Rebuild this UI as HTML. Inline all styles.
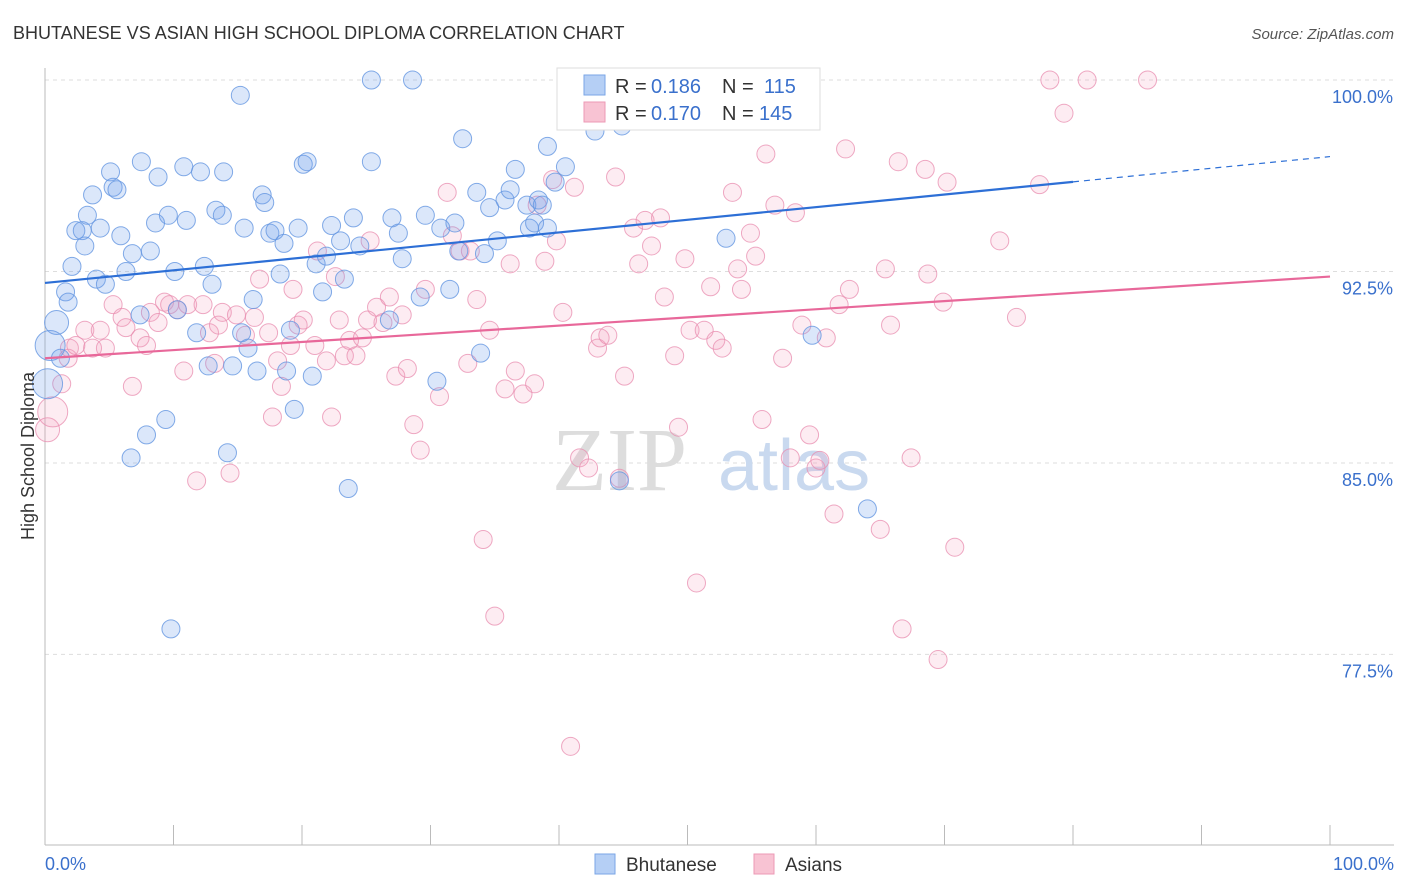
<!DOCTYPE html>
<html><head><meta charset="utf-8"><style>
body{margin:0;background:#fff;font-family:"Liberation Sans",sans-serif}
svg{display:block}
</style></head><body>
<svg id="chart" width="1406" height="892" viewBox="0 0 1406 892" xmlns="http://www.w3.org/2000/svg" font-family="Liberation Sans, sans-serif">
<text x="13" y="39" font-size="18" fill="#333">BHUTANESE VS ASIAN HIGH SCHOOL DIPLOMA CORRELATION CHART</text>
<text x="1394" y="39" font-size="15" fill="#555" text-anchor="end" font-style="italic">Source: ZipAtlas.com</text>
<g id="grid"></g>
<g><text x="552" y="490" font-size="90" fill="#ddd" font-family="Liberation Serif, serif">ZIP</text><text x="718" y="490" font-size="72" fill="#c9d9ef">atlas</text></g>
<g id="axes"></g>
<g id="pts"></g>
<g id="lines"></g>
<text transform="translate(34,456) rotate(-90)" font-size="18" fill="#333" text-anchor="middle">High School Diploma</text>
<g>
<rect x="557" y="68" width="263" height="62" fill="#fff" stroke="#ddd"/>
<rect x="584" y="75" width="21" height="20" fill="#b5cff5" stroke="#7aa6e6"/>
<rect x="584" y="102" width="21" height="20" fill="#f8c3d3" stroke="#ec9ab6"/>
<text x="615" y="93" font-size="20" fill="#333">R =</text>
<text x="651" y="93" font-size="20" fill="#3a70cc">0.186</text>
<text x="722" y="93" font-size="20" fill="#333">N =</text>
<text x="764" y="93" font-size="20" fill="#3a70cc">115</text>
<text x="615" y="120" font-size="20" fill="#333">R =</text>
<text x="651" y="120" font-size="20" fill="#3a70cc">0.170</text>
<text x="722" y="120" font-size="20" fill="#333">N =</text>
<text x="759" y="120" font-size="20" fill="#3a70cc">145</text>
</g>
<g>
<rect x="595" y="854" width="20" height="20" fill="#b5cff5" stroke="#7aa6e6"/>
<text x="626" y="871" font-size="19" fill="#333">Bhutanese</text>
<rect x="754" y="854" width="20" height="20" fill="#f8c3d3" stroke="#ec9ab6"/>
<text x="785" y="871" font-size="19" fill="#333">Asians</text>
</g>
</svg>
<script>
const blueX=[0.9,0.4,0.2,1.2,1.6,1.8,2.1,2.4,2.9,3.1,3.3,3.7,4.0,4.3,4.7,5.1,5.3,5.6,5.9,6.3,6.7,6.8,7.4,7.5,7.9,8.2,8.6,8.8,9.4,9.6,9.8,10.1,10.3,10.8,11.0,11.8,12.1,12.4,12.7,13.0,13.3,13.8,13.9,14.2,14.6,15.2,15.3,15.5,15.8,16.2,16.5,16.9,17.1,17.5,17.9,18.3,18.6,18.8,19.1,19.4,19.7,20.1,20.4,20.8,21.1,21.6,21.9,22.3,23.0,23.3,23.6,24.0,24.5,25.4,25.4,26.8,27.0,27.5,27.8,28.6,29.2,29.6,30.5,30.8,31.5,31.9,32.2,32.5,33.9,33.6,34.2,34.6,35.2,35.8,36.2,36.6,37.5,37.7,38.1,38.4,38.7,39.1,39.1,39.7,40.5,42.8,43.0,44.7,44.9,45.9,53.0,59.7,64.0];
const blueY=[90.5,89.6,88.1,89.1,91.7,91.3,92.7,94.1,94.1,93.5,94.7,95.5,92.2,94.2,92.0,96.4,95.8,95.7,93.9,92.5,85.2,93.2,90.8,96.8,86.1,93.3,94.4,96.2,86.7,94.7,78.5,92.5,91.0,96.6,94.5,90.1,96.4,92.7,88.8,92.0,94.9,94.7,96.4,85.4,88.8,99.4,90.1,94.2,89.5,91.4,88.6,95.5,95.2,94.0,94.1,92.4,93.6,88.6,90.2,87.1,94.2,96.7,96.8,88.4,92.8,91.7,93.1,94.3,93.7,92.2,84.0,94.6,93.5,100,96.8,90.6,94.6,94.0,93.0,100,91.5,94.7,88.2,94.2,91.8,94.4,93.3,97.7,89.3,95.6,93.2,95.0,93.7,95.3,95.7,96.5,95.1,94.2,94.4,95.3,95.1,97.4,94.2,96.0,96.6,98.0,100,84.3,98.2,100,93.8,90.0,83.2];
const pinkX=[0.2,0.6,1.3,1.8,1.9,2.4,3.1,3.7,4.3,4.7,5.3,6.0,6.3,6.8,7.4,7.9,8.2,8.8,9.3,9.7,10.3,10.8,11.1,11.8,12.3,12.8,13.2,13.5,13.8,14.4,14.9,15.6,16.3,16.7,17.4,17.7,18.1,18.4,19.1,19.3,19.7,20.1,21.0,21.2,21.9,22.3,22.6,22.9,23.3,23.7,24.2,24.7,25.1,25.3,25.8,26.3,26.8,27.3,27.8,28.2,28.7,29.2,29.6,30.7,31.3,31.7,32.3,32.9,33.1,33.6,34.1,34.6,35.0,35.8,36.2,36.6,37.2,38.1,38.3,38.9,39.5,39.8,40.3,40.9,41.2,41.6,42.3,43.0,43.2,43.8,44.4,44.7,45.1,45.8,46.2,46.7,47.2,47.9,48.2,49.0,49.3,49.8,50.2,50.7,51.3,51.8,52.2,52.7,53.5,53.9,54.2,54.9,55.3,55.8,56.1,56.8,57.4,58.0,58.4,58.9,59.5,60.0,60.3,60.8,61.4,61.8,62.3,62.6,65.0,65.4,65.8,66.4,66.7,67.4,68.5,68.7,69.5,69.9,70.2,70.8,74.3,75.6,77.4,78.2,79.3,81.1,85.8];
const pinkY=[86.3,87.0,88.1,89.1,89.5,89.6,90.2,89.5,90.2,89.5,91.2,90.7,90.3,88.0,89.9,89.6,90.9,90.5,91.3,91.2,91.0,88.6,91.2,84.3,91.2,90.1,88.9,90.4,90.9,84.6,90.8,90.0,90.7,92.2,90.1,86.8,89.0,88.0,89.6,91.8,90.4,90.6,89.6,93.3,89.0,86.8,92.3,90.6,89.2,89.8,89.2,89.9,90.6,93.7,91.1,90.5,91.5,88.4,90.8,88.7,86.5,85.5,91.8,87.6,95.6,93.9,93.3,88.9,93.3,91.4,82.0,90.2,79.0,87.9,92.8,88.6,87.7,88.1,95.1,92.9,96.1,93.7,90.9,73.9,95.8,85.2,84.8,89.5,89.9,90.0,96.2,84.4,88.4,94.2,92.8,94.5,93.5,94.6,91.5,89.2,86.4,93.0,90.2,80.3,90.2,91.9,89.8,89.5,95.6,92.6,91.8,94.0,93.1,86.7,97.1,95.1,89.1,85.2,94.8,90.4,86.1,84.8,85.1,89.9,83.0,91.2,97.3,91.8,82.4,92.6,90.4,96.8,78.5,85.2,96.5,92.4,77.3,91.3,96.0,81.7,93.7,90.7,95.9,100,98.7,100,100];
const blueTrend=[92.05,97.0];
const pinkTrend=[89.1,92.3];
const yTicks=[100,92.5,85,77.5];
const yTickLabels=["100.0%","92.5%","85.0%","77.5%"];
const xTicks=[0,10,20,30,40,50,60,70,80,90,100];

const NS="http://www.w3.org/2000/svg";
const sx=v=>45+v*12.85;
const sy=v=>80+(100-v)*25.53;
function mk(tag,attrs,parent){const e=document.createElementNS(NS,tag);for(const k in attrs)e.setAttribute(k,attrs[k]);parent.appendChild(e);return e;}
const grid=document.getElementById('grid'),axes=document.getElementById('axes'),pts=document.getElementById('pts'),lines=document.getElementById('lines');
yTicks.forEach((t,i)=>{
  const l=mk('line',{x1:45,x2:1394,y1:sy(t),y2:sy(t),stroke:'#ddd','stroke-dasharray':'4,4'},grid);
  
  
  const tx=mk('text',{x:1393,y:sy(t)+23,'font-size':18,fill:'#3a70cc','text-anchor':'end'},axes);
  tx.textContent=yTickLabels[i];
  
  
});
const ya=mk('line',{x1:45,x2:45,y1:68,y2:845,stroke:'#bbb'},axes);


const xa=mk('line',{x1:45,x2:1394,y1:845,y2:845,stroke:'#bbb'},axes);


xTicks.forEach(t=>{
  const l=mk('line',{x1:sx(t),x2:sx(t),y1:825,y2:845,stroke:'#bbb'},axes);
  
  
});
const xl0=mk('text',{x:45,y:870,'font-size':18,fill:'#3a70cc'},axes);xl0.textContent='0.0%';


const xl1=mk('text',{x:1394,y:870,'font-size':18,fill:'#3a70cc','text-anchor':'end'},axes);xl1.textContent='100.0%';



function drawPts(X,Y,fill,stroke,name,bigCount){
  X.forEach((x,i)=>{
    const r=i<bigCount?(i===0?12:15):9;
    const c=mk('circle',{cx:sx(x),cy:sy(Y[i]),r:r,fill:fill,stroke:stroke,'stroke-width':1},pts);
    
    
  });
}
drawPts(pinkX,pinkY,'rgba(244,160,190,0.2)','rgba(232,140,175,0.75)','asians-point',2);
drawPts(blueX,blueY,'rgba(110,160,235,0.25)','rgba(100,150,225,0.8)','bhutanese-point',3);

const bEnd=80;
const by=x=>blueTrend[0]+(blueTrend[1]-blueTrend[0])*x/100;
const py=x=>pinkTrend[0]+(pinkTrend[1]-pinkTrend[0])*x/100;
const bl=mk('line',{x1:sx(0),y1:sy(by(0)),x2:sx(bEnd),y2:sy(by(bEnd)),stroke:'#2d6fd6','stroke-width':2.2},lines);


const bd=mk('line',{x1:sx(bEnd),y1:sy(by(bEnd)),x2:sx(100),y2:sy(by(100)),stroke:'#2d6fd6','stroke-width':1.2,'stroke-dasharray':'6,5'},lines);


const pl=mk('line',{x1:sx(0),y1:sy(py(0)),x2:sx(100),y2:sy(py(100)),stroke:'#e8689a','stroke-width':2.2},lines);


</script>
</body></html>
